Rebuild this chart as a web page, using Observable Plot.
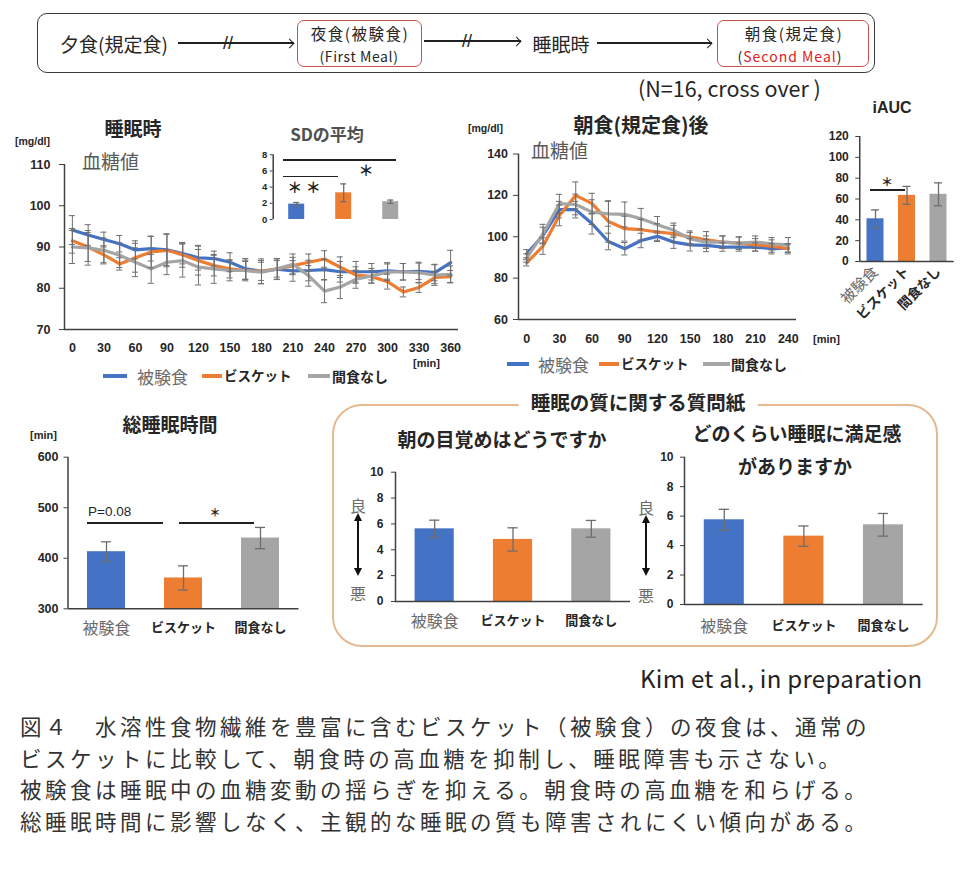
<!DOCTYPE html>
<html><head><meta charset="utf-8">
<script src="https://cdn.jsdelivr.net/npm/d3@7"></script>
<script src="https://cdn.jsdelivr.net/npm/@observablehq/plot@0.6"></script>
<style>
html,body{margin:0;padding:0;background:#fff;}
#page{position:relative;width:980px;height:877px;overflow:hidden;font-family:'Noto Sans CJK JP',sans-serif;color:#262626;}
.t{position:absolute;white-space:nowrap;line-height:1;}
.b{position:absolute;box-sizing:border-box;}
</style></head><body><div id="page"></div>
<script>
// ---------- data ----------
const groups = ["被験食", "ビスケット", "間食なし"];
const groupColors = ["#4472C4", "#ED7D31", "#A5A5A5"];

// 睡眠時 血糖値 [mg/dl]
const sleepMinutes = [0, 15, 30, 45, 60, 75, 90, 105, 120, 135, 150, 165, 180, 195, 210, 225, 240, 255, 270, 285, 300, 315, 330, 345, 360];
const sleepTest    = [94.1, 92.9, 91.8, 90.8, 89.3, 89.6, 89.3, 88.4, 87.4, 87.2, 86.3, 84.7, 84.1, 84.6, 84.2, 84.3, 84.5, 84.0, 84.0, 84.0, 84.2, 84.0, 84.1, 83.8, 86.2];
const sleepBiscuit = [91.5, 90.0, 88.1, 85.9, 87.4, 88.8, 89.2, 88.1, 86.7, 85.5, 84.7, 84.3, 84.1, 84.7, 85.5, 86.3, 87.1, 85.1, 83.2, 82.8, 81.6, 79.1, 80.2, 82.6, 82.8];
const sleepNone    = [90.0, 89.8, 89.2, 88.0, 86.3, 84.7, 86.3, 86.7, 85.1, 84.7, 84.3, 84.3, 83.9, 84.7, 85.8, 83.0, 79.3, 80.3, 82.2, 83.0, 83.9, 84.0, 83.8, 83.2, 83.4];
const sleepTestErr    = [3.5, 2.5, 1.8, 2.0, 2.2, 3.0, 3.8, 2.5, 3.0, 1.8, 2.3, 2.5, 3.0, 2.5, 2.5, 2.5, 2.5, 2.5, 2.5, 2.0, 2.0, 2.0, 2.0, 2.0, 3.0];
const sleepBiscuitErr = [3.0, 3.5, 2.2, 1.5, 3.5, 3.8, 4.0, 3.0, 3.5, 2.5, 2.2, 2.2, 2.2, 2.0, 2.0, 2.0, 2.0, 2.5, 2.0, 1.5, 1.8, 1.2, 1.2, 1.5, 1.5];
const sleepNoneErr    = [4.0, 4.2, 3.0, 3.0, 3.5, 3.5, 3.0, 4.0, 4.3, 3.5, 2.5, 2.5, 2.8, 2.5, 2.5, 2.5, 2.8, 2.8, 2.2, 1.8, 2.0, 2.0, 2.5, 2.5, 2.0];
const sleepXTicks = [0, 30, 60, 90, 120, 150, 180, 210, 240, 270, 300, 330, 360];
const sleepYTicks = [70, 80, 90, 100, 110];

// 朝食(規定食)後 血糖値 [mg/dl]
const bfMinutes = [0, 15, 30, 45, 60, 75, 90, 105, 120, 135, 150, 165, 180, 195, 210, 225, 240];
const bfTest    = [91.8, 100.6, 113.1, 113.1, 106.3, 97.7, 94.2, 98.2, 100.2, 97.4, 96.1, 95.8, 95.0, 95.0, 95.0, 94.2, 94.5];
const bfBiscuit = [87.4, 95.5, 110.3, 120.0, 116.0, 107.4, 103.9, 103.4, 102.3, 101.5, 99.8, 98.5, 97.4, 96.9, 96.1, 95.5, 94.2];
const bfNone    = [89.7, 101.5, 116.0, 115.6, 111.9, 111.1, 110.8, 108.7, 105.8, 103.1, 99.0, 97.4, 97.4, 96.9, 97.4, 96.6, 96.1];
const bfTestErr    = [2.0, 4.0, 4.0, 4.0, 5.0, 4.0, 3.0, 3.5, 2.5, 3.0, 3.0, 3.0, 2.0, 2.0, 2.0, 2.5, 2.0];
const bfBiscuitErr = [1.5, 4.0, 5.0, 6.5, 5.0, 10.0, 6.0, 5.0, 4.0, 4.0, 3.0, 4.0, 3.0, 3.0, 3.0, 3.0, 2.5];
const bfNoneErr    = [2.0, 4.5, 4.5, 5.0, 6.0, 6.0, 6.0, 5.0, 4.0, 3.5, 3.0, 3.0, 3.0, 3.0, 3.0, 3.0, 3.5];
const bfXTicks = [0, 30, 60, 90, 120, 150, 180, 210, 240];
const bfYTicks = [60, 80, 100, 120, 140];

// SDの平均
const sdMean = [1.9, 3.3, 2.2];
const sdErr  = [0.2, 1.1, 0.2];
const sdTicks = [0, 2, 4, 6, 8];

// iAUC
const iaucMean = [41, 63.5, 64.5];
const iaucErr  = [8.5, 8.6, 11];
const iaucTicks = [0, 20, 40, 60, 80, 100, 120];

// 総睡眠時間 [min]
const tstMean = [413, 361, 440];
const tstErr  = [19.5, 24, 21];
const tstTicks = [300, 400, 500, 600];

// 睡眠の質に関する質問紙
const wakeMean = [5.62, 4.8, 5.62];
const wakeErr  = [0.67, 0.9, 0.65];
const satisMean = [5.75, 4.64, 5.41];
const satisErr  = [0.71, 0.69, 0.77];
const qTicks = [0, 2, 4, 6, 8, 10];

// ---------- helpers ----------
const page = document.getElementById("page");
const NUM = "'Liberation Sans', Arial, sans-serif";
const JP = "'Noto Sans CJK JP', sans-serif";
const AXIS = "#404040";
const ERR = "#6e6e6e";
const GRAYTXT = "#6b6b6b";

function txt(s, x, y, o = {}) {
  const d = document.createElement("div");
  d.className = "t";
  if (o.html) d.innerHTML = s; else d.textContent = s;
  const a = o.anchor || "middle";
  const tx = a === "start" ? "0" : a === "end" ? "-100%" : "-50%";
  d.style.left = x + "px"; d.style.top = y + "px";
  d.style.transform = `translate(${tx},-50%)`;
  d.style.fontSize = (o.size || 14) + "px";
  d.style.fontWeight = o.weight || "normal";
  d.style.color = o.color || "#262626";
  d.style.fontFamily = o.family || JP;
  if (o.ls) d.style.letterSpacing = o.ls;
  if (o.bg) { d.style.background = o.bg; d.style.padding = o.pad || "0"; }
  page.appendChild(d);
  return d;
}
function box(x, y, w, h, css) {
  const d = document.createElement("div");
  d.className = "b";
  d.style.cssText += `left:${x}px;top:${y}px;width:${w}px;height:${h}px;` + css;
  page.appendChild(d);
  return d;
}
function hline(x1, x2, y, c = "#222", t = 1.3) { box(x1, y - t / 2, x2 - x1, t, `background:${c};`); }
function hArrow(x1, x2, y) {
  hline(x1, x2, y, "#222", 1.2);
  box(x2 - 5 - 3.5, y - 3.5, 7, 7, "border-top:1.3px solid #222;border-right:1.3px solid #222;transform:rotate(45deg);");
}
function vDoubleArrow(x, y1, y2) {
  box(x - 0.8, y1 + 6, 1.6, y2 - y1 - 12, "background:#111;");
  box(x - 4, y1, 8, 8, "width:0;height:0;border-left:4px solid transparent;border-right:4px solid transparent;border-bottom:8px solid #111;");
  box(x - 4, y2 - 8, 8, 8, "width:0;height:0;border-left:4px solid transparent;border-right:4px solid transparent;border-top:8px solid #111;");
}
function place(svg, x, y) {
  svg.style.position = "absolute";
  svg.style.left = x + "px";
  svg.style.top = y + "px";
  svg.style.overflow = "visible";
  svg.style.maxWidth = "none";
  page.appendChild(svg);
}
function longRows(times, vals, errs) {
  const rows = [];
  groups.forEach((g, si) => times.forEach((t, i) => rows.push({g, t, v: vals[si][i], e: errs[si][i]})));
  return rows;
}

function lineChart(o) {
  const rows = longRows(o.times, o.vals, o.errs);
  const cap = o.cap;
  return Plot.plot({
    width: o.width, height: o.height,
    marginLeft: o.ml, marginRight: o.mr, marginTop: o.mt, marginBottom: o.mb,
    x: {domain: o.xDomain}, y: {domain: o.yDomain},
    color: {domain: groups, range: groupColors},
    style: {fontFamily: NUM, fontSize: o.fontSize + "px", fontWeight: "bold", color: "#262626", background: "transparent", overflow: "visible"},
    marks: [
      Plot.axisY({ticks: o.yTicks, tickSize: 5, tickPadding: o.yPad, label: null, stroke: AXIS}),
      Plot.axisX({ticks: o.xTicks, tickSize: 0, tickPadding: o.xPad, label: null}),
      Plot.line(rows, {x: "t", y: "v", z: "g", stroke: "g", strokeWidth: 3.2}),
      Plot.ruleX(rows, {x: "t", y1: d => d.v - d.e, y2: d => d.v + d.e, stroke: ERR, strokeWidth: 1}),
      Plot.ruleY(rows, {y: d => d.v + d.e, x1: d => d.t - cap, x2: d => d.t + cap, stroke: ERR, strokeWidth: 1}),
      Plot.ruleY(rows, {y: d => d.v - d.e, x1: d => d.t - cap, x2: d => d.t + cap, stroke: ERR, strokeWidth: 1}),
      Plot.ruleY([o.yDomain[0]], {stroke: AXIS, strokeWidth: 1.5}),
      Plot.ruleX([o.xDomain[0]], {stroke: AXIS, strokeWidth: 1.5})
    ]
  });
}

function barChart(o) {
  const rows = groups.map((g, i) => ({g, i, v: o.means[i], e: o.errs[i]}));
  const p = o.pad, c = o.cap;
  const marks = [
    Plot.rectY(rows, {x1: d => d.i + p / 2, x2: d => d.i + 1 - p / 2, y1: o.yDomain[0], y2: "v", fill: "g"}),
    Plot.ruleX(rows, {x: d => d.i + 0.5, y1: d => d.v - d.e, y2: d => d.v + d.e, stroke: ERR, strokeWidth: 1.3}),
    Plot.ruleY(rows, {y: d => d.v + d.e, x1: d => d.i + 0.5 - c, x2: d => d.i + 0.5 + c, stroke: ERR, strokeWidth: 1.3}),
    Plot.ruleY(rows, {y: d => d.v - d.e, x1: d => d.i + 0.5 - c, x2: d => d.i + 0.5 + c, stroke: ERR, strokeWidth: 1.3}),
    Plot.axisY({ticks: o.yTicks, tickSize: o.tickSize, tickPadding: o.yPad, label: null, stroke: AXIS}),
    Plot.ruleX([0], {stroke: AXIS, strokeWidth: 1.5})
  ];
  if (o.baseline !== false) marks.push(Plot.ruleY([o.yDomain[0]], {stroke: AXIS, strokeWidth: 1.5}));
  if (o.labels) {
    const L = o.labels;
    marks.push(Plot.axisX({ticks: [0.5], tickFormat: () => groups[0], tickSize: 0, tickPadding: L.pad, tickRotate: L.rotate || 0, label: null,
      fontSize: L.mainSize, fontWeight: "normal", fill: GRAYTXT, fontFamily: JP}));
    marks.push(Plot.axisX({ticks: [1.5, 2.5], tickFormat: t => groups[Math.floor(t)], tickSize: 0, tickPadding: L.pad, tickRotate: L.rotate || 0, label: null,
      fontSize: L.otherSize, fontWeight: "bold", fill: "#262626", fontFamily: JP}));
  }
  return Plot.plot({
    width: o.width, height: o.height,
    marginLeft: o.ml, marginRight: o.mr, marginTop: o.mt, marginBottom: o.mb,
    x: {domain: [0, 3], axis: o.labels ? undefined : null}, y: {domain: o.yDomain},
    color: {domain: groups, range: groupColors},
    style: {fontFamily: NUM, fontSize: o.fontSize + "px", fontWeight: "bold", color: "#262626", background: "transparent", overflow: "visible"},
    marks
  });
}

// ---------- flow diagram ----------
box(37, 13, 838, 60, "border:1.5px solid #3a3a3a;border-radius:10px;");
txt("夕食(規定食)", 114, 43, {size: 19});
hArrow(178, 294, 43);
txt("//", 228, 43, {size: 18, family: NUM, color: "#222"});
box(297, 20, 125, 47, "border:1.3px solid #c9504d;border-radius:7px;background:#fff;");
txt("夜食(被験食)", 360, 33.5, {size: 15.5, ls: "1.5px"});
txt("(First Meal)", 359, 55.5, {size: 14, ls: "0.6px"});
hArrow(424, 521, 41);
txt("//", 467, 41, {size: 18, family: NUM, color: "#222"});
txt("睡眠時", 561, 43, {size: 19});
hArrow(597, 712, 43);
box(717, 20, 152, 47, "border:1.3px solid #c9504d;border-radius:7px;background:#fff;");
txt("朝食(規定食)", 794, 33.5, {size: 15.5, ls: "1.5px"});
txt('(<span style="color:#e0201b">Second Meal</span>)', 790, 55.5, {size: 14, ls: "1px", html: true});
txt("(N=16, cross over )", 638, 88, {size: 21.5, anchor: "start"});

// ---------- 睡眠時 chart ----------
place(lineChart({
  times: sleepMinutes, vals: [sleepTest, sleepBiscuit, sleepNone], errs: [sleepTestErr, sleepBiscuitErr, sleepNoneErr],
  width: 470, height: 270, ml: 64, mr: 12, mt: 54, mb: 51,
  xDomain: [-7.5, 367.5], yDomain: [70, 110], xTicks: sleepXTicks, yTicks: sleepYTicks,
  fontSize: 12.5, yPad: 9, xPad: 13.5, cap: 2.9
}), 0, 110);
txt("睡眠時", 133, 127, {size: 19, weight: "bold"});
txt("[mg/dl]", 15, 141, {size: 10.5, weight: "bold", family: NUM, anchor: "start"});
txt("血糖値", 82, 160, {size: 19, color: "#595959", anchor: "start"});
txt("[min]", 413, 363, {size: 11, weight: "bold", family: NUM, anchor: "start"});
// legend
hline(103, 127, 376, groupColors[0], 3.5);
txt(groups[0], 137, 376, {size: 17, color: GRAYTXT, anchor: "start"});
hline(202, 222, 376, groupColors[1], 3.5);
txt(groups[1], 224, 376, {size: 13.5, weight: "bold", anchor: "start"});
hline(308, 330, 376, groupColors[2], 3.5);
txt(groups[2], 332, 376, {size: 14, weight: "bold", anchor: "start"});

// SD inset
place(barChart({
  means: sdMean, errs: sdErr, yDomain: [0, 8], yTicks: sdTicks,
  width: 170, height: 90, ml: 22.7, mr: 6.3, mt: 14.3, mb: 11,
  pad: 0.66, cap: 0.064, tickSize: 3, yPad: 3, fontSize: 9.5, baseline: false
}), 250, 140);
txt("SDの平均", 327, 133, {size: 17, weight: "bold", color: "#505050"});
hline(283, 396, 160, "#222", 1.3);
hline(283, 338, 176.5, "#222", 1.3);
txt("＊ ＊", 304, 186, {size: 15, weight: "bold", color: "#222"});
txt("＊", 366, 169, {size: 15, weight: "bold", color: "#222"});

// ---------- 朝食後 chart ----------
place(lineChart({
  times: bfMinutes, vals: [bfTest, bfBiscuit, bfNone], errs: [bfTestErr, bfBiscuitErr, bfNoneErr],
  width: 345, height: 270, ml: 58, mr: 9, mt: 43.5, mb: 61,
  xDomain: [-7.5, 247.5], yDomain: [60, 140], xTicks: bfXTicks, yTicks: bfYTicks,
  fontSize: 12.5, yPad: 5.5, xPad: 15, cap: 2.8
}), 460, 110);
txt("朝食(規定食)後", 641, 125, {size: 20, weight: "bold"});
txt("[mg/dl]", 468, 128, {size: 10.5, weight: "bold", family: NUM, anchor: "start"});
txt("血糖値", 531, 149, {size: 19, color: "#595959", anchor: "start"});
txt("[min]", 813, 339, {size: 11, weight: "bold", family: NUM, anchor: "start"});
hline(507, 529, 364, groupColors[0], 3.5);
txt(groups[0], 538, 364, {size: 17, color: GRAYTXT, anchor: "start"});
hline(599, 619, 364, groupColors[1], 3.5);
txt(groups[1], 621, 364, {size: 13.5, weight: "bold", anchor: "start"});
hline(703, 730, 364, groupColors[2], 3.5);
txt(groups[2], 731, 364, {size: 14, weight: "bold", anchor: "start"});

// ---------- iAUC ----------
place(barChart({
  means: iaucMean, errs: iaucErr, yDomain: [0, 120], yTicks: iaucTicks,
  width: 165, height: 235, ml: 44.25, mr: 26.25, mt: 46, mb: 64,
  pad: 0.46, cap: 0.127, tickSize: 4, yPad: 7, fontSize: 12,
  labels: {pad: 8, rotate: -45, mainSize: 15, otherSize: 13.5}
}), 815, 90);
txt("iAUC", 892, 108, {size: 16, weight: "bold", family: NUM});
hline(870, 905, 190, "#222", 1.3);
txt("＊", 887, 182, {size: 12, weight: "bold", color: "#222"});

// ---------- 総睡眠時間 ----------
place(barChart({
  means: tstMean, errs: tstErr, yDomain: [300, 600], yTicks: tstTicks,
  width: 310, height: 225, ml: 67.5, mr: 11.5, mt: 36.7, mb: 36.7,
  pad: 0.5065, cap: 0.065, tickSize: 4, yPad: 5.5, fontSize: 12.5,
  labels: {pad: 14, mainSize: 16, otherSize: 13}
}), 0, 420);
txt("総睡眠時間", 170, 423, {size: 19, weight: "bold"});
txt("[min]", 30, 435, {size: 11, weight: "bold", family: NUM, anchor: "start"});
hline(87, 163, 523, "#222", 1.3);
txt("P=0.08", 88, 512, {size: 13.5, family: NUM, anchor: "start"});
hline(179, 254, 523, "#222", 1.3);
txt("＊", 215, 512, {size: 11, weight: "bold", color: "#222"});

// ---------- 睡眠の質に関する質問紙 ----------
box(332, 404, 606, 243, "border:2px solid #e5b98f;border-radius:30px;");
txt("睡眠の質に関する質問紙", 638, 402, {size: 19.5, weight: "bold", bg: "#fff", pad: "0 12px"});
txt("朝の目覚めはどうですか", 502, 438, {size: 19, weight: "bold"});
place(barChart({
  means: wakeMean, errs: wakeErr, yDomain: [0, 10], yTicks: qTicks,
  width: 300, height: 200, ml: 55, mr: 10, mt: 31.7, mb: 39,
  pad: 0.5, cap: 0.065, tickSize: 4, yPad: 8, fontSize: 12,
  labels: {pad: 14, mainSize: 16, otherSize: 13}
}), 340, 440);
txt("良", 358, 505, {size: 16, color: GRAYTXT});
vDoubleArrow(358, 513, 576);
txt("悪", 358, 593, {size: 16, color: GRAYTXT});

txt("どのくらい睡眠に満足感", 797, 432, {size: 19, weight: "bold"});
place(barChart({
  means: satisMean, errs: satisErr, yDomain: [0, 10], yTicks: qTicks,
  width: 295, height: 205, ml: 44, mr: 12.25, mt: 16.7, mb: 41,
  pad: 0.497, cap: 0.065, tickSize: 4, yPad: 7, fontSize: 12,
  labels: {pad: 16, mainSize: 16, otherSize: 13}
}), 640, 440);
txt("がありますか", 795, 465, {size: 19, weight: "bold"});
txt("良", 646, 507, {size: 16, color: GRAYTXT});
vDoubleArrow(646, 515, 576);
txt("悪", 646, 595, {size: 16, color: GRAYTXT});

// ---------- source & caption ----------
txt("Kim et al., in preparation", 640, 678, {size: 24, color: "#222", anchor: "start", ls: "0.3px"});
const captionLines = [
  "図４　水溶性食物繊維を豊富に含むビスケット（被験食）の夜食は、通常の",
  "ビスケットに比較して、朝食時の高血糖を抑制し、睡眠障害も示さない。",
  "被験食は睡眠中の血糖変動の揺らぎを抑える。朝食時の高血糖を和らげる。",
  "総睡眠時間に影響しなく、主観的な睡眠の質も障害されにくい傾向がある。"
];
const captionY = [726, 757.5, 789, 820.5];
captionLines.forEach((s, i) => txt(s, 20, captionY[i], {size: 21.5, color: "#333", anchor: "start", ls: "3.5px"}));
</script></body></html>
